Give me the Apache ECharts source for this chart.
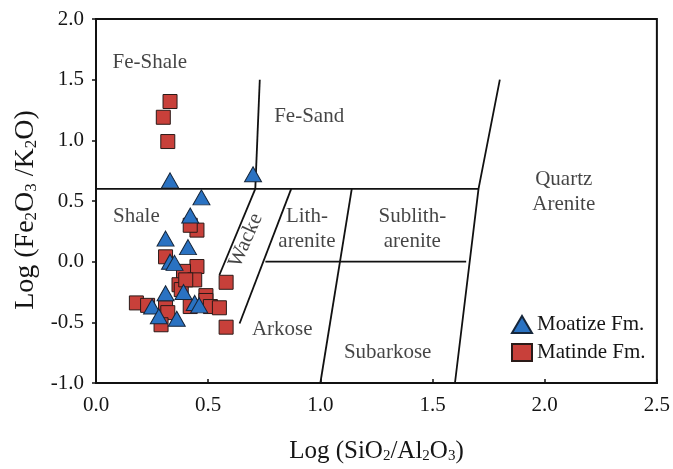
<!DOCTYPE html>
<html>
<head>
<meta charset="utf-8">
<script src="https://cdn.jsdelivr.net/npm/echarts@6/dist/echarts.min.js"></script>
<style>
  html, body { margin: 0; padding: 0; background: #fff; }
  #chart { width: 673px; height: 469px; }
</style>
</head>
<body>
<div id="chart"></div>
<script>
// Log(SiO2/Al2O3) vs Log(Fe2O3/K2O) classification (Herron-type diagram)
const xTicks = [0.0, 0.5, 1.0, 1.5, 2.0, 2.5];
const yTicks = [-1.0, -0.5, 0.0, 0.5, 1.0, 1.5, 2.0];

// Moatize Fm. samples [log(SiO2/Al2O3), log(Fe2O3/K2O)]
const moatize = [
  [0.33, 0.67], [0.70, 0.72], [0.47, 0.53], [0.42, 0.38], [0.31, 0.19],
  [0.41, 0.12], [0.33, 0.00], [0.35, -0.01], [0.31, -0.26], [0.39, -0.25],
  [0.25, -0.37], [0.44, -0.34], [0.46, -0.36], [0.28, -0.45], [0.36, -0.47]
];

// Matinde Fm. samples
const matinde = [
  [0.33, 1.32], [0.30, 1.19], [0.32, 0.99], [0.45, 0.26], [0.42, 0.30],
  [0.31, 0.04], [0.45, -0.04], [0.39, -0.08], [0.44, -0.15], [0.37, -0.19],
  [0.38, -0.23], [0.58, -0.17], [0.18, -0.34], [0.23, -0.36], [0.31, -0.38],
  [0.32, -0.42], [0.29, -0.52], [0.49, -0.28], [0.49, -0.32], [0.42, -0.37],
  [0.51, -0.37], [0.55, -0.38], [0.58, -0.54], [0.40, -0.15]
];

// Field boundaries of the classification diagram
const boundaries = [
  [[0, 0.6], [1.705, 0.6]],
  [[0.71, 0.6], [0.73, 1.5]],
  [[1.6, -1.0], [1.705, 0.6], [1.8, 1.5]],
  [[0.71, 0.6], [0.55, -0.11]],
  [[0.87, 0.6], [0.64, -0.51]],
  [[1.14, 0.6], [1.0, -1.0]],
  [[0.755, 0.0], [1.65, 0.0]]
];

// Field names and their anchor points
const fieldNames = ['Fe-Shale', 'Fe-Sand', 'Shale', 'Lith-\narenite', 'Sublith-\narenite',
                    'Quartz\nArenite', 'Arkose', 'Subarkose'];
const fieldPos = [[0.24, 1.645], [0.95, 1.20], [0.18, 0.37], [0.94, 0.27], [1.41, 0.27],
                  [2.085, 0.575], [0.83, -0.555], [1.30, -0.752]];
const wackePos = [0.668, 0.175];

const FONT = 'Liberation Serif';
const INK = '#151515';
const chart = echarts.init(document.getElementById('chart'), null, { renderer: 'canvas' });

const lineSeries = boundaries.map(seg => ({
  type: 'line',
  data: seg,
  symbol: 'none',
  silent: true,
  z: 1,
  lineStyle: { color: '#111', width: 1.8 },
  legendHoverLink: false
}));

const subStyle = (size) => ({ fontFamily: FONT, fontSize: size, color: INK, verticalAlign: 'bottom', lineHeight: 10 });

chart.setOption({
  animation: false,
  backgroundColor: '#fff',
  grid: { left: 96, right: 14, top: 19, bottom: 86, show: true, borderColor: '#111', borderWidth: 2 },
  xAxis: {
    type: 'value', min: 0, max: 2.5, interval: 0.5,
    name: 'Log (SiO{s|2}/Al{s|2}O{s|3})',
    nameLocation: 'middle', nameGap: 56,
    nameTextStyle: { fontFamily: FONT, fontSize: 25, color: INK, rich: { s: subStyle(15) } },
    axisLine: { onZero: false, lineStyle: { color: '#111', width: 2 } },
    axisTick: { inside: true, length: 4, lineStyle: { color: '#111', width: 1.5 } },
    axisLabel: { fontFamily: FONT, fontSize: 21, color: INK, margin: 12,
                 formatter: v => v.toFixed(1) },
    splitLine: { show: false }
  },
  yAxis: {
    type: 'value', min: -1, max: 2, interval: 0.5,
    name: 'Log (Fe{s|2}O{s|3} /K{s|2}O)',
    nameLocation: 'middle', nameGap: 56, nameRotate: 90,
    nameTextStyle: { fontFamily: FONT, fontSize: 28, color: INK, padding: [0, 18, 0, 0],
                     rich: { s: subStyle(17) } },
    axisLine: { onZero: false, lineStyle: { color: '#111', width: 2 } },
    axisTick: { inside: false, length: 4, lineStyle: { color: '#111', width: 1.5 } },
    axisLabel: { fontFamily: FONT, fontSize: 21, color: INK, margin: 12,
                 formatter: v => v.toFixed(1) },
    splitLine: { show: false }
  },
  legend: {
    orient: 'vertical', left: 506, top: 309, itemGap: 7,
    itemWidth: 20, itemHeight: 17,
    textStyle: { fontFamily: FONT, fontSize: 21, color: INK },
    data: ['Moatize Fm.', 'Matinde Fm.']
  },
  series: [
    ...lineSeries,
    {
      type: 'scatter', silent: true, z: 2,
      symbolSize: 0,
      data: fieldPos.map((p, i) => ({ value: p, name: fieldNames[i] })),
      label: { show: true, position: 'inside', formatter: p => p.name,
               fontFamily: FONT, fontSize: 21, color: INK, lineHeight: 25, align: 'center' }
    },
    {
      type: 'scatter', silent: true, z: 2,
      symbolSize: 0,
      data: [{ value: wackePos, name: 'Wacke' }],
      label: { show: true, position: 'inside', formatter: p => p.name, rotate: 66,
               fontFamily: FONT, fontSize: 21, color: INK }
    },
    {
      name: 'Matinde Fm.', type: 'scatter', z: 3,
      symbol: 'rect', symbolSize: 14,
      itemStyle: { color: '#c8403a', borderColor: '#2a1a18', borderWidth: 1, opacity: 1 },
      data: matinde
    },
    {
      name: 'Moatize Fm.', type: 'scatter', z: 4,
      symbol: 'triangle', symbolSize: [17, 15],
      itemStyle: { color: '#2a72c2', borderColor: '#16263a', borderWidth: 1, opacity: 1 },
      data: moatize
    }
  ]
});
</script>
</body>
</html>
